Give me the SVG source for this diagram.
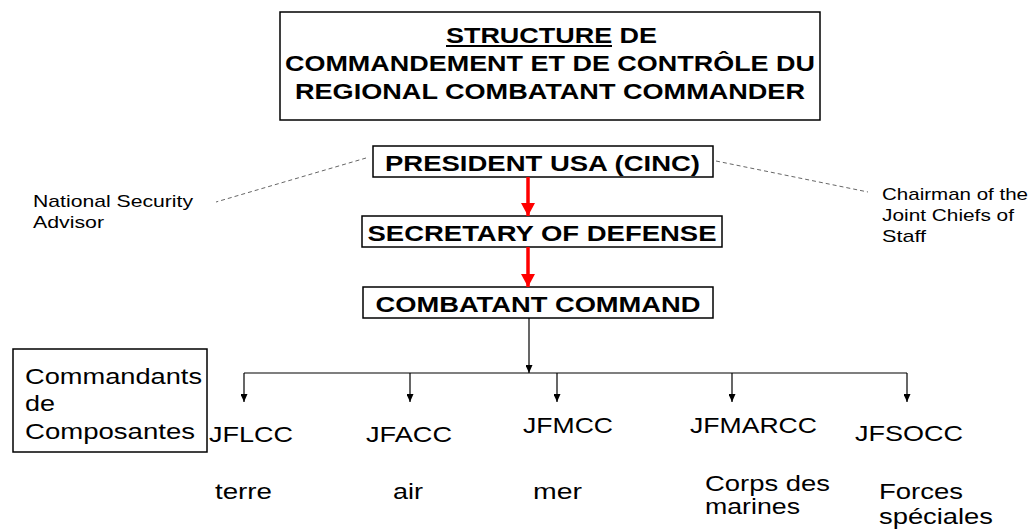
<svg xmlns="http://www.w3.org/2000/svg" width="1034" height="529" viewBox="0 0 1034 529">
<defs>
<style>
.box{fill:#fff;stroke:#000;stroke-width:1.5}
.tb{font-family:"Liberation Sans",Arial,sans-serif;font-weight:bold;font-size:22px;fill:#000}
.tn{font-family:"Liberation Sans",Arial,sans-serif;font-size:22px;fill:#000}
.ts{font-family:"Liberation Sans",Arial,sans-serif;font-size:17px;fill:#000}
.red{stroke:#f00;stroke-width:3.5;fill:none}
.blk{stroke:#000;stroke-width:1.2;fill:none}
.dash{stroke:#666;stroke-width:1;stroke-dasharray:4 3;fill:none}
</style>
<marker id="ar" markerUnits="userSpaceOnUse" markerWidth="14" markerHeight="14" refX="13" refY="7" orient="auto">
<path d="M0,0 L13,7 L0,14 z" fill="#f00"/>
</marker>
<marker id="ab" markerUnits="userSpaceOnUse" markerWidth="8" markerHeight="7" refX="8" refY="3.5" orient="auto">
<path d="M0,0 L8,3.5 L0,7 z" fill="#000"/>
</marker>
</defs>
<rect width="1034" height="529" fill="#fff"/>

<g id="title">
<rect class="box" x="280" y="12" width="540" height="108"/>
<text class="tb" x="446" y="43" textLength="211" lengthAdjust="spacingAndGlyphs">STRUCTURE DE</text>
<line x1="446" y1="46" x2="612" y2="46" stroke="#000" stroke-width="2"/>
<text class="tb" x="550" y="71" text-anchor="middle" textLength="530" lengthAdjust="spacingAndGlyphs">COMMANDEMENT ET DE CONTRÔLE DU</text>
<text class="tb" x="550" y="99" text-anchor="middle" textLength="510" lengthAdjust="spacingAndGlyphs">REGIONAL COMBATANT COMMANDER</text>
</g>

<g id="president">
<rect class="box" x="373" y="146" width="340" height="31"/>
<text class="tb" x="542.5" y="171" text-anchor="middle" textLength="315" lengthAdjust="spacingAndGlyphs">PRESIDENT USA (CINC)</text>
</g>

<g id="secretary">
<rect class="box" x="362" y="216" width="360" height="31"/>
<text class="tb" x="542" y="241" text-anchor="middle" textLength="349" lengthAdjust="spacingAndGlyphs">SECRETARY OF DEFENSE</text>
</g>

<g id="combatant">
<rect class="box" x="363" y="287" width="350" height="31"/>
<text class="tb" x="538" y="312" text-anchor="middle" textLength="325" lengthAdjust="spacingAndGlyphs">COMBATANT COMMAND</text>
</g>

<g id="nsa">
<text class="ts" x="33" y="207" textLength="160" lengthAdjust="spacingAndGlyphs">National Security</text>
<text class="ts" x="33" y="228" textLength="71" lengthAdjust="spacingAndGlyphs">Advisor</text>
</g>

<g id="cjcs">
<text class="ts" x="882" y="200" textLength="146" lengthAdjust="spacingAndGlyphs">Chairman of the</text>
<text class="ts" x="882" y="221" textLength="132" lengthAdjust="spacingAndGlyphs">Joint Chiefs of</text>
<text class="ts" x="882" y="242" textLength="44" lengthAdjust="spacingAndGlyphs">Staff</text>
</g>

<g id="composantes">
<rect class="box" x="13" y="349" width="194" height="103"/>
<text class="tn" x="25" y="384" textLength="177" lengthAdjust="spacingAndGlyphs">Commandants</text>
<text class="tn" x="25" y="411" textLength="30" lengthAdjust="spacingAndGlyphs">de</text>
<text class="tn" x="25" y="439" textLength="170" lengthAdjust="spacingAndGlyphs">Composantes</text>
</g>

<g id="jflcc">
<text class="tn" x="209" y="442" textLength="84" lengthAdjust="spacingAndGlyphs">JFLCC</text>
<text class="tn" x="215" y="499" textLength="57" lengthAdjust="spacingAndGlyphs">terre</text>
</g>

<g id="jfacc">
<text class="tn" x="366" y="442" textLength="86" lengthAdjust="spacingAndGlyphs">JFACC</text>
<text class="tn" x="393" y="499" textLength="30" lengthAdjust="spacingAndGlyphs">air</text>
</g>

<g id="jfmcc">
<text class="tn" x="523" y="433" textLength="90" lengthAdjust="spacingAndGlyphs">JFMCC</text>
<text class="tn" x="533" y="499" textLength="49" lengthAdjust="spacingAndGlyphs">mer</text>
</g>

<g id="jfmarcc">
<text class="tn" x="690" y="433" textLength="127" lengthAdjust="spacingAndGlyphs">JFMARCC</text>
<text class="tn" x="705" y="491" textLength="125" lengthAdjust="spacingAndGlyphs">Corps des</text>
<text class="tn" x="705" y="514" textLength="95" lengthAdjust="spacingAndGlyphs">marines</text>
</g>

<g id="jfsocc">
<text class="tn" x="855" y="441" textLength="108" lengthAdjust="spacingAndGlyphs">JFSOCC</text>
<text class="tn" x="879" y="499" textLength="84" lengthAdjust="spacingAndGlyphs">Forces</text>
<text class="tn" x="879" y="524" textLength="114" lengthAdjust="spacingAndGlyphs">spéciales</text>
</g>

<g id="connectors">
<line class="dash" x1="366" y1="158" x2="216" y2="202"/>
<line class="dash" x1="716" y1="161" x2="868" y2="192"/>
<line class="red" x1="528" y1="177" x2="528" y2="216" marker-end="url(#ar)"/>
<line class="red" x1="528" y1="247" x2="528" y2="287" marker-end="url(#ar)"/>
<line class="blk" x1="529" y1="318" x2="529" y2="373" marker-end="url(#ab)"/>
<line class="blk" x1="244" y1="373" x2="907" y2="373"/>
<line class="blk" x1="244" y1="373" x2="244" y2="402" marker-end="url(#ab)"/>
<line class="blk" x1="410" y1="373" x2="410" y2="402" marker-end="url(#ab)"/>
<line class="blk" x1="557" y1="373" x2="557" y2="402" marker-end="url(#ab)"/>
<line class="blk" x1="732" y1="373" x2="732" y2="402" marker-end="url(#ab)"/>
<line class="blk" x1="907" y1="373" x2="907" y2="402" marker-end="url(#ab)"/>
</g>
</svg>
